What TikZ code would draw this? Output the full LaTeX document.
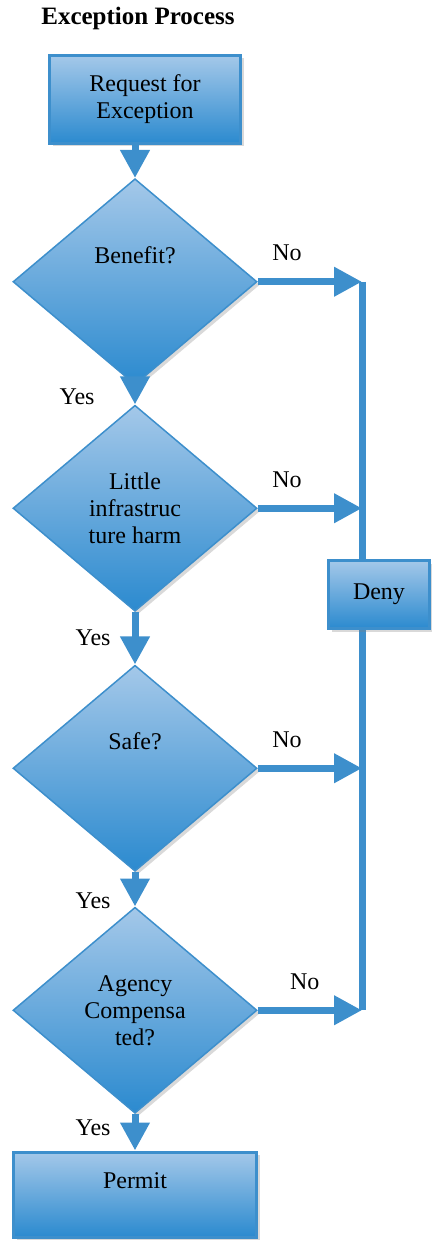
\documentclass[tikz,border=0pt]{standalone}
\usepackage{fontspec}
\setmainfont{Liberation Serif}
\usetikzlibrary{positioning,arrows.meta,shapes.geometric,shadows}
\definecolor{flowline}{HTML}{3D8FCC}
\definecolor{flowtop}{HTML}{A4C8E9}
\definecolor{flowbot}{HTML}{2B8ACF}

\begin{document}
\begin{tikzpicture}[
  x=1pt, y=-1pt,
  >={Triangle[length=28pt, width=28pt]},
  boxshape/.style={draw=flowline, line width=3pt, top color=flowtop, bottom color=flowbot,
    drop shadow={shadow xshift=3pt, shadow yshift=-3pt, opacity=0.3},
    font=\fontsize{24}{27}\selectfont, align=center, inner sep=2pt},
  decision/.style={boxshape, diamond, line width=1.5pt,
    minimum width=244pt, minimum height=206pt, inner sep=0pt},
  flow/.style={draw=flowline, line width=7pt, ->},
  lab/.style={font=\fontsize{24}{27}\selectfont, inner sep=0pt},
  node distance=27pt]
\useasboundingbox (0,0) rectangle (431,1241);
\node[font=\bfseries\fontsize{25}{28}\selectfont] (title) at (138,18) {Exception Process};
\node[boxshape, minimum width=191pt, minimum height=88pt] (req) at (145,99.5) {Request for\\Exception};
\node[decision, below=33pt of req, xshift=-10pt] (d1) {Benefit?\\\mbox{}\\\mbox{}};
\node[decision, below=19pt of d1] (d2) {Little\\infrastruc\\ture harm};
\node[decision, below=52.5pt of d2] (d3) {Safe?\\\mbox{}\\\mbox{}};
\node[decision, below=34.5pt of d3] (d4) {Agency\\Compensa\\ted?};
\node[boxshape, minimum width=243pt, minimum height=85pt, below=36.5pt of d4] (pm) {Permit\\\mbox{}};
% bus line on the right
\coordinate (busx) at (362,0);
\foreach \d in {1,2,3,4}
  \coordinate (n\d) at (d\d.east -| busx);
\draw[flowline, line width=7pt] (n1) -- (n4);
\draw[flow] (d1.north |- req.south) -- (d1.north);
\draw[flow] (d1) -- node[lab, left=37pt, pos=0.6] {Yes} (d2);
\draw[flow] (d2) -- node[lab, left=21pt, pos=0.5] {Yes} (d3);
\draw[flow] (d3) -- node[lab, left=21pt, pos=0.84] {Yes} (d4);
\draw[flow] (d4) -- node[lab, left=21pt, pos=0.39] {Yes} (pm);
\draw[flow] (d1.east) -- node[lab, above=17.5pt, pos=0.28] {No} (n1);
\draw[flow] (d2.east) -- node[lab, above=17.5pt, pos=0.28] {No} (n2);
\draw[flow] (d3.east) -- node[lab, above=17.5pt, pos=0.28] {No} (n3);
\draw[flow] (d4.east) -- node[lab, above=17.5pt, pos=0.45] {No} (n4);
\node[boxshape, minimum width=101pt, minimum height=68pt] (deny) at (379,594.5) {Deny};
\end{tikzpicture}
\end{document}
